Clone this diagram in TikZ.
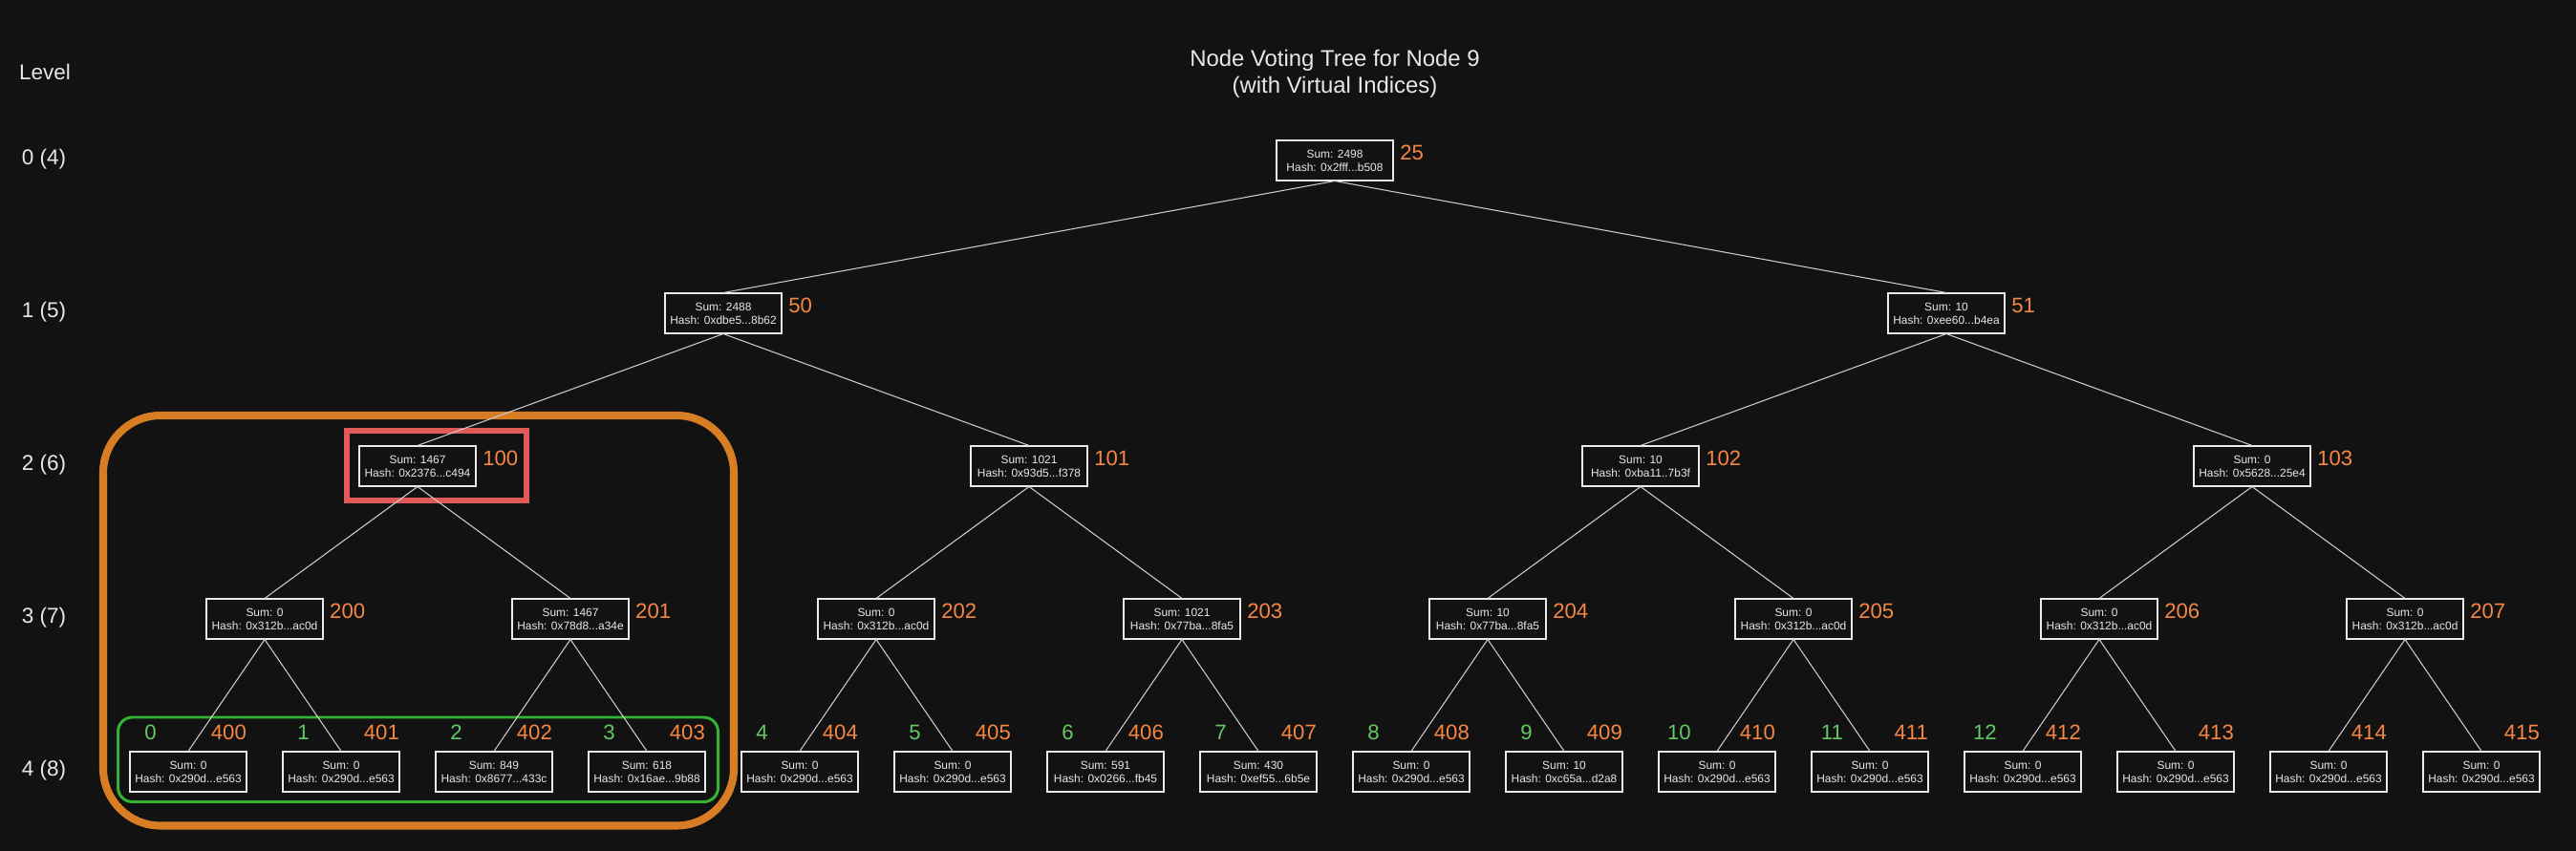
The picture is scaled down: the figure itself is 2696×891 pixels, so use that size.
\documentclass[tikz,border=0pt]{standalone}
\usepackage{fontspec}
\setmainfont{Liberation Sans}
\usepackage{tikz}
\usetikzlibrary{positioning}
\definecolor{bgdark}{RGB}{18,18,18}
\definecolor{boxline}{RGB}{235,235,235}
\definecolor{boxtext}{RGB}{232,232,232}
\definecolor{edgegray}{RGB}{205,205,205}
\definecolor{idxorange}{RGB}{245,135,65}
\definecolor{idxgreen}{RGB}{100,200,100}
\definecolor{frameorange}{RGB}{215,125,35}
\definecolor{framered}{RGB}{225,90,90}
\definecolor{framegreen}{RGB}{50,180,50}
\tikzset{%
	vbox/.style     = {draw=boxline, fill=bgdark, rectangle, line width=0.57pt, minimum width=1.21cm, minimum height=0.41cm, inner sep=0pt, align=center, text=boxtext, font=\fontsize{3.4}{4}\selectfont}, % tree node
	vnum/.style     = {text=idxorange, inner sep=0pt, font=\fontsize{6.3}{7.5}\selectfont}, % virtual index
	gnum/.style     = {text=idxgreen, inner sep=0pt, font=\fontsize{6.3}{7.5}\selectfont}, % node index
	idx/.style      = {label={[vnum, anchor=south west, xshift=0.06cm]east:#1}},
	vleaf/.style    = {label={[vnum, anchor=south east, yshift=0.11cm]north east:#1}},
	gleaf/.style    = {label={[gnum, anchor=south, xshift=-0.395cm, yshift=0.11cm]north:#1}},
	edge/.style     = {draw=edgegray, line width=0.3pt},
	lvl/.style      = {text=boxtext, inner sep=0pt, font=\fontsize{6.4}{7.5}\selectfont},
}

\begin{document}
\begin{tikzpicture}[x=0.01cm,y=-0.01cm]
	\fill[bgdark] (0,0) rectangle (2696,891);
	\useasboundingbox (0,0) rectangle (2696,891);

	% highlight frames
	\draw[frameorange, line width=2.3pt, rounded corners=0.6cm] (108,435) rectangle (768,864.5);
	\draw[framered, line width=1.56pt] (363,451) rectangle (551,524);
	\draw[framegreen, line width=0.85pt, rounded corners=0.15cm] (123.5,751) rectangle (751.5,839.5);

	% title and levels
	\node [text=boxtext, inner sep=0pt, align=center, anchor=north, font=\fontsize{6.8}{7.97}\selectfont] (title) at (1397,51) {Node Voting Tree for Node 9\\(with Virtual Indices)};
	\node [lvl, anchor=base] (lvlhead) at (47,84) {Level};
	\node [lvl] (lvl0) at (46,167) {0 (4)};
	\node [lvl] (lvl1) at (46,327) {1 (5)};
	\node [lvl] (lvl2) at (46,487) {2 (6)};
	\node [lvl] (lvl3) at (46,647) {3 (7)};
	\node [lvl] (lvl4) at (46,807) {4 (8)};

	% level 0 - 2
	\node [vbox, idx=25] (n25) at (1397,168) {Sum: 2498\\Hash: 0x2fff...b508};
	\node [vbox, idx=50] (n50) at (757,328) {Sum: 2488\\Hash: 0xdbe5...8b62};
	\node [vbox, idx=51] (n51) at (2037,328) {Sum: 10\\Hash: 0xee60...b4ea};
	\node [vbox, idx=100] (n100) at (437,488) {Sum: 1467\\Hash: 0x2376...c494};
	\node [vbox, idx=101] (n101) at (1077,488) {Sum: 1021\\Hash: 0x93d5...f378};
	\node [vbox, idx=102] (n102) at (1717,488) {Sum: 10\\Hash: 0xba11..7b3f};
	\node [vbox, idx=103] (n103) at (2357,488) {Sum: 0\\Hash: 0x5628...25e4};

	% level 3
	\node [vbox, idx=200] (n200) at (277,648) {Sum: 0\\Hash: 0x312b...ac0d};
	\node [vbox, idx=201] (n201) at (597,648) {Sum: 1467\\Hash: 0x78d8...a34e};
	\node [vbox, idx=202] (n202) at (917,648) {Sum: 0\\Hash: 0x312b...ac0d};
	\node [vbox, idx=203] (n203) at (1237,648) {Sum: 1021\\Hash: 0x77ba...8fa5};
	\node [vbox, idx=204] (n204) at (1557,648) {Sum: 10\\Hash: 0x77ba...8fa5};
	\node [vbox, idx=205] (n205) at (1877,648) {Sum: 0\\Hash: 0x312b...ac0d};
	\node [vbox, idx=206] (n206) at (2197,648) {Sum: 0\\Hash: 0x312b...ac0d};
	\node [vbox, idx=207] (n207) at (2517,648) {Sum: 0\\Hash: 0x312b...ac0d};

	% level 4
	\node [vbox, vleaf=400, gleaf=0] (n400) at (197,808) {Sum: 0\\Hash: 0x290d...e563};
	\node [vbox, vleaf=401, gleaf=1] (n401) at (357,808) {Sum: 0\\Hash: 0x290d...e563};
	\node [vbox, vleaf=402, gleaf=2] (n402) at (517,808) {Sum: 849\\Hash: 0x8677...433c};
	\node [vbox, vleaf=403, gleaf=3] (n403) at (677,808) {Sum: 618\\Hash: 0x16ae...9b88};
	\node [vbox, vleaf=404, gleaf=4] (n404) at (837,808) {Sum: 0\\Hash: 0x290d...e563};
	\node [vbox, vleaf=405, gleaf=5] (n405) at (997,808) {Sum: 0\\Hash: 0x290d...e563};
	\node [vbox, vleaf=406, gleaf=6] (n406) at (1157,808) {Sum: 591\\Hash: 0x0266...fb45};
	\node [vbox, vleaf=407, gleaf=7] (n407) at (1317,808) {Sum: 430\\Hash: 0xef55...6b5e};
	\node [vbox, vleaf=408, gleaf=8] (n408) at (1477,808) {Sum: 0\\Hash: 0x290d...e563};
	\node [vbox, vleaf=409, gleaf=9] (n409) at (1637,808) {Sum: 10\\Hash: 0xc65a...d2a8};
	\node [vbox, vleaf=410, gleaf=10] (n410) at (1797,808) {Sum: 0\\Hash: 0x290d...e563};
	\node [vbox, vleaf=411, gleaf=11] (n411) at (1957,808) {Sum: 0\\Hash: 0x290d...e563};
	\node [vbox, vleaf=412, gleaf=12] (n412) at (2117,808) {Sum: 0\\Hash: 0x290d...e563};
	\node [vbox, vleaf=413] (n413) at (2277,808) {Sum: 0\\Hash: 0x290d...e563};
	\node [vbox, vleaf=414] (n414) at (2437,808) {Sum: 0\\Hash: 0x290d...e563};
	\node [vbox, vleaf=415] (n415) at (2597,808) {Sum: 0\\Hash: 0x290d...e563};

	% edges
	\draw[edge] (n25.south) -- (n50.north);
	\draw[edge] (n25.south) -- (n51.north);
	\draw[edge] (n50.south) -- (n100.north);
	\draw[edge] (n50.south) -- (n101.north);
	\draw[edge] (n51.south) -- (n102.north);
	\draw[edge] (n51.south) -- (n103.north);
	\draw[edge] (n100.south) -- (n200.north);
	\draw[edge] (n100.south) -- (n201.north);
	\draw[edge] (n101.south) -- (n202.north);
	\draw[edge] (n101.south) -- (n203.north);
	\draw[edge] (n102.south) -- (n204.north);
	\draw[edge] (n102.south) -- (n205.north);
	\draw[edge] (n103.south) -- (n206.north);
	\draw[edge] (n103.south) -- (n207.north);
	\draw[edge] (n200.south) -- (n400.north);
	\draw[edge] (n200.south) -- (n401.north);
	\draw[edge] (n201.south) -- (n402.north);
	\draw[edge] (n201.south) -- (n403.north);
	\draw[edge] (n202.south) -- (n404.north);
	\draw[edge] (n202.south) -- (n405.north);
	\draw[edge] (n203.south) -- (n406.north);
	\draw[edge] (n203.south) -- (n407.north);
	\draw[edge] (n204.south) -- (n408.north);
	\draw[edge] (n204.south) -- (n409.north);
	\draw[edge] (n205.south) -- (n410.north);
	\draw[edge] (n205.south) -- (n411.north);
	\draw[edge] (n206.south) -- (n412.north);
	\draw[edge] (n206.south) -- (n413.north);
	\draw[edge] (n207.south) -- (n414.north);
	\draw[edge] (n207.south) -- (n415.north);
\end{tikzpicture}
\end{document}
